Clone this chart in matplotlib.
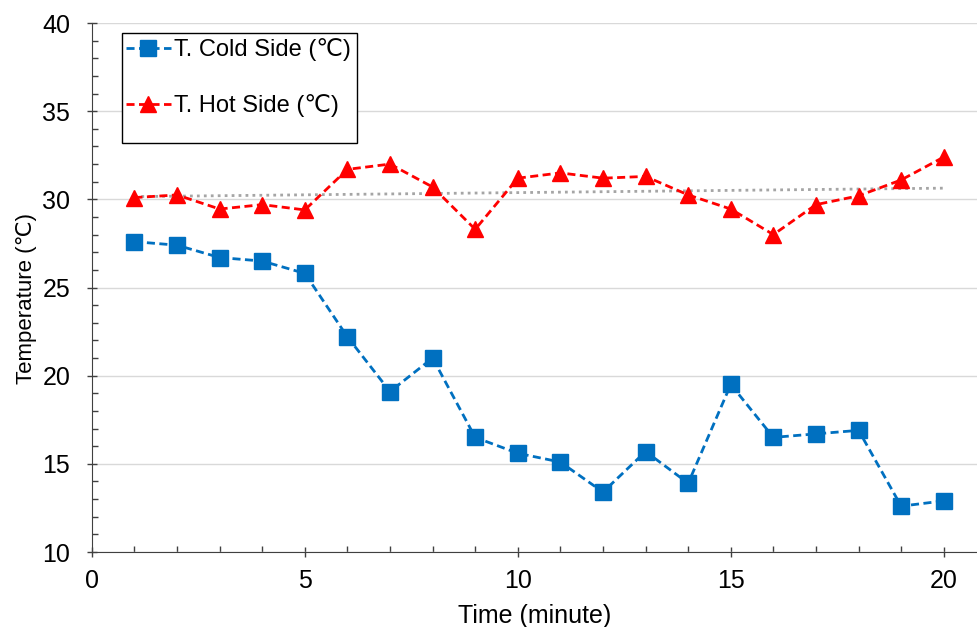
import numpy as np
import matplotlib
matplotlib.use('Agg')
import matplotlib.pyplot as plt
from matplotlib.ticker import MultipleLocator
from matplotlib.patches import Rectangle

plt.rcParams['font.family'] = ['Liberation Sans', 'DejaVu Sans']

minutes = [1, 2, 3, 4, 5, 6, 7, 8, 9, 10, 11, 12, 13, 14, 15, 16, 17, 18, 19, 20]
t_cold = [27.6, 27.4, 26.7, 26.5, 25.8, 22.2, 19.1, 21.0, 16.5, 15.6,
          15.1, 13.4, 15.7, 13.9, 19.5, 16.5, 16.7, 16.9, 12.6, 12.9]
t_hot = [30.1, 30.25, 29.45, 29.7, 29.4, 31.7, 32.0, 30.7, 28.3, 31.2,
         31.5, 31.2, 31.3, 30.25, 29.45, 28.0, 29.7, 30.2, 31.1, 32.4]

BLUE = '#0070C0'
RED = '#FF0000'

fig = plt.figure(figsize=(9.77, 6.27), dpi=100)
ax = fig.add_axes([0.094, 0.1196, 0.906, 0.8437])

# linear trendline of hot side
k, b = np.polyfit(minutes, t_hot, 1)
xs = np.array([minutes[0], minutes[-1]])
ax.plot(xs, k * xs + b, linestyle=(0, (1, 1.5)), color='#A5A5A5', linewidth=2, zorder=2)

ax.plot(minutes, t_cold, linestyle='--', color=BLUE, linewidth=2, dashes=(2.9, 1.6),
        marker='s', markersize=11, markerfacecolor=BLUE, markeredgecolor=BLUE,
        label='T. Cold Side (\u2103)', zorder=3)
ax.plot(minutes, t_hot, linestyle='--', color=RED, linewidth=2, dashes=(2.9, 1.6),
        marker='^', markersize=11, markerfacecolor=RED, markeredgecolor=RED,
        label='T. Hot Side (\u2103)', zorder=3)

ax.set_xlim(0, 20.78)
ax.set_ylim(10, 40)
ax.xaxis.set_major_locator(MultipleLocator(5))
ax.xaxis.set_minor_locator(MultipleLocator(1))
ax.yaxis.set_major_locator(MultipleLocator(5))
ax.yaxis.set_minor_locator(MultipleLocator(1))

ax.grid(True, which='major', axis='y', color='#D9D9D9', linewidth=1)
ax.set_axisbelow(True)
for s in ('top', 'right'):
    ax.spines[s].set_visible(False)
for s in ('left', 'bottom'):
    ax.spines[s].set_color('#404040')

ax.tick_params(which='major', direction='inout', length=7, width=1, color='#404040',
               labelsize=18)
ax.tick_params(axis='y', which='major', pad=12)
ax.tick_params(axis='x', which='major', pad=9)
ax.tick_params(which='minor', direction='in', length=4, width=1, color='#404040')

ax.set_xlabel('Time (minute)', fontsize=18, labelpad=8)
ax.set_ylabel('Temperature (\u2103)', fontsize=16, labelpad=4)
ax.yaxis.label.set_y(0.48)

# legend box (drawn separately, Excel leaves room at the bottom)
ax.add_patch(Rectangle((0.0339, 0.773), 0.2655, 0.208, transform=ax.transAxes,
                       facecolor='white', edgecolor='black', linewidth=1, zorder=4))
leg = ax.legend(loc='upper left', bbox_to_anchor=(0.033, 0.98), fontsize=17,
                frameon=False, handlelength=1.9, handletextpad=0.15, labelspacing=1.4,
                borderpad=0.2, borderaxespad=0)
leg.set_zorder(5)

fig.savefig('out.png', dpi=100)
